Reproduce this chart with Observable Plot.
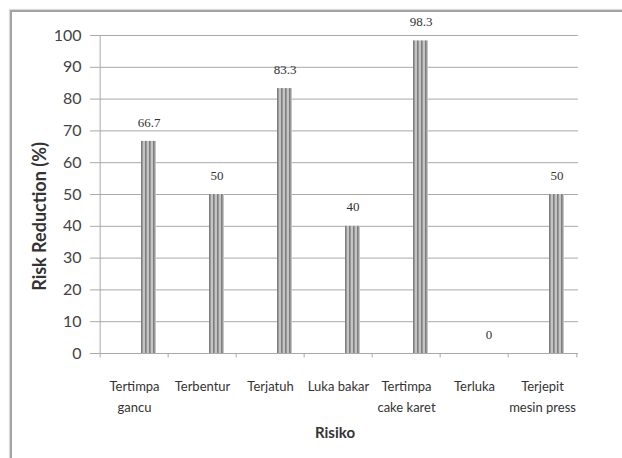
<!DOCTYPE html>
<html>
<head>
<meta charset="utf-8">
<script src="https://cdn.jsdelivr.net/npm/d3@7"></script>
<script src="https://cdn.jsdelivr.net/npm/@observablehq/plot@0.6"></script>
<style>
  html, body { margin: 0; padding: 0; background: #fff; }
  #wrap { position: relative; width: 622px; height: 458px; overflow: hidden; }
  #frame {
    position: absolute; left: 10px; top: 10px; width: 700px; height: 520px;
    border-left: 2px solid #a3a3a3; border-top: 2px solid #a3a3a3;
    box-shadow: -1px -1px 1px #dcdcdc;
  }
  #chart { position: absolute; left: 0; top: 0; }
</style>
</head>
<body>
<div id="wrap">
  <div id="frame"></div>
  <div id="chart"></div>
</div>
<script>
// Risk reduction per hazard
const risks = ["Tertimpa\ngancu", "Terbentur", "Terjatuh", "Luka bakar", "Tertimpa\ncake karet", "Terluka", "Terjepit\nmesin press"];
const reduction = [66.7, 50, 83.3, 40, 98.3, 0, 50];
const yTicks = [0, 10, 20, 30, 40, 50, 60, 70, 80, 90, 100];

const rows = risks.map((r, i) => ({risk: r, value: reduction[i]}));

const W = 622, H = 458;
const mL = 97, mR = 44, mT = 35, mB = 105;
const bw = (W - mL - mR) / risks.length;
const barOffset = 14.6;

const grid = "#a9a9a9";

const svg = Plot.plot({
  width: W,
  height: H,
  marginLeft: mL,
  marginRight: mR,
  marginTop: mT,
  marginBottom: mB,
  style: {background: "transparent", overflow: "visible"},
  x: {domain: risks, padding: 0, axis: null},
  y: {domain: [0, 100], axis: null},
  marks: [
    // horizontal gridlines with short ticks to the left of the axis
    Plot.ruleY(yTicks, {y: d => d, stroke: grid, strokeWidth: 1, insetLeft: -7}),
    // y tick labels
    Plot.text(yTicks, {y: d => d, frameAnchor: "left", dx: -16, textAnchor: "end",
      text: d => String(d), fontFamily: "Lato", fontSize: 16, fill: "#444"}),
    // vertical axis line at the left edge of the first category
    Plot.ruleX([risks[0]], {x: d => d, dx: -bw / 2, y1: 0, y2: 100, stroke: grid}),
    // category boundary ticks below the baseline
    Plot.ruleX(risks, {x: d => d, dx: -bw / 2, y1: 0, y2: -1.4, stroke: grid}),
    Plot.ruleX([risks[risks.length - 1]], {x: d => d, dx: bw / 2, y1: 0, y2: -1.4, stroke: grid}),
    // bars
    Plot.barY(rows, {x: "risk", y: "value", fill: "url(#stripes)", insetLeft: 41, insetRight: 12}),
    // value labels
    Plot.text(rows, {x: "risk", y: "value", text: d => String(d.value), dx: barOffset, dy: -19,
      fontFamily: "Liberation Serif", fontSize: 13, fill: "#333"}),
    // category labels
    Plot.text(risks, {x: d => d, text: d => d, frameAnchor: "bottom", lineAnchor: "top", dy: 23,
      fontFamily: "Lato", fontSize: 13, lineHeight: 1.6, fill: "#333"}),
    // axis titles
    Plot.text(["Risiko"], {frameAnchor: "bottom", textAnchor: "middle", dy: 84, dx: -3, text: d => d,
      fontFamily: "Lato", fontWeight: "bold", fontSize: 15, fill: "#333"}),
    Plot.text(["Risk Reduction (%)"], {frameAnchor: "left", textAnchor: "middle", dx: -57, dy: 22, rotate: -90, text: d => d,
      fontFamily: "Lato", fontWeight: "bold", fontSize: 18, fill: "#333"})
  ]
});

// vertical stripe fill used by the bars
const defs = d3.select(svg).insert("defs", ":first-child");
const pat = defs.append("pattern")
  .attr("id", "stripes")
  .attr("patternUnits", "userSpaceOnUse")
  .attr("width", 4).attr("height", 10);
pat.append("rect").attr("width", 4).attr("height", 10).attr("fill", "#c4c4c4");
pat.append("rect").attr("x", 1).attr("width", 1.6).attr("height", 10).attr("fill", "#7d7d7d");

document.getElementById("chart").appendChild(svg);
</script>
</body>
</html>
